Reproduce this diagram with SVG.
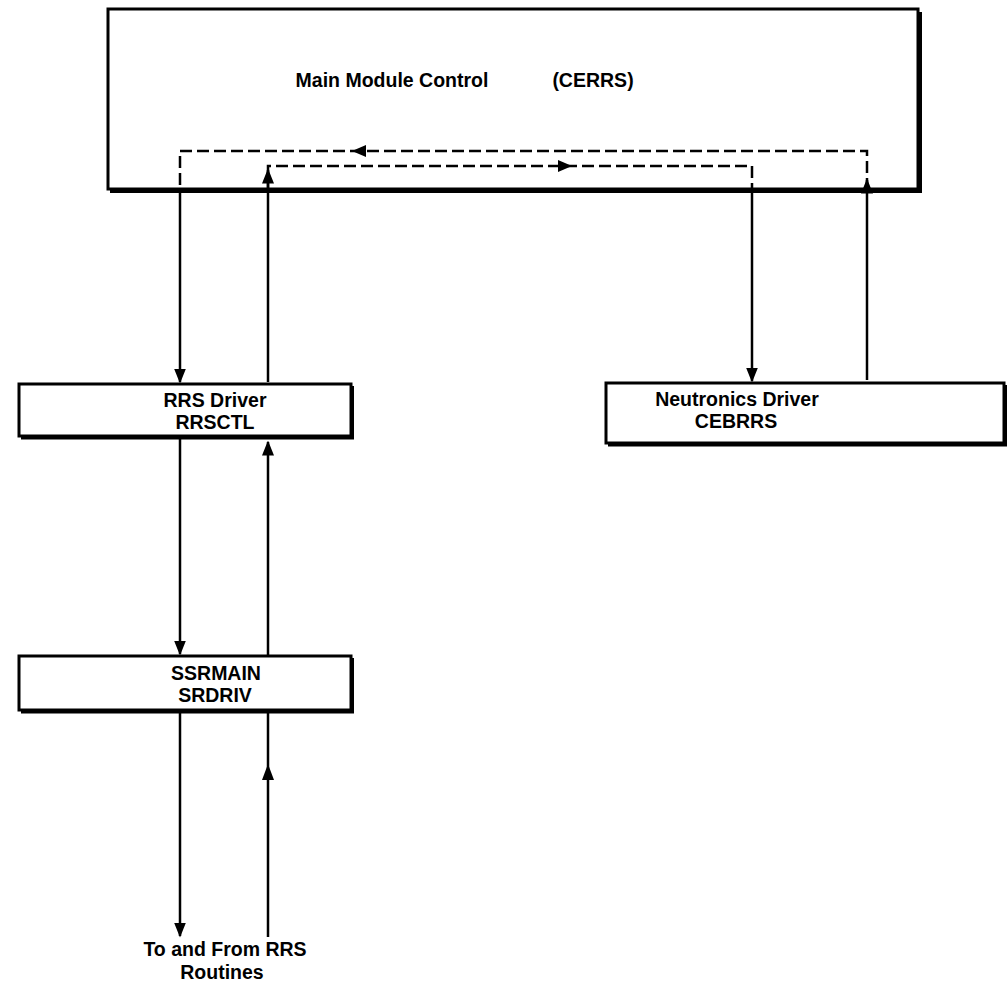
<svg xmlns="http://www.w3.org/2000/svg" width="1008" height="1003" viewBox="0 0 1008 1003">
<defs>
<style>
.box{fill:#fff;stroke:#000;stroke-width:3}
.sh{fill:none;stroke:#000;stroke-width:3}
.t{font-family:"Liberation Sans",Arial,sans-serif;font-weight:bold;font-size:19.5px;fill:#000;text-anchor:middle}
.ln{fill:none;stroke:#000;stroke-width:2.5}
.dl{fill:none;stroke:#000;stroke-width:2.5;stroke-dasharray:12 5}
.ar{fill:#000}
</style>
<marker id="ah" viewBox="0 0 10 10" refX="9" refY="5" markerWidth="6" markerHeight="6" orient="auto" markerUnits="strokeWidth">
<path d="M0,1 L10,5 L0,9 Z" fill="#000"/>
</marker>
</defs>
<rect width="1008" height="1003" fill="#fff"/>
<g id="main">
<rect class="box" x="108" y="9" width="810" height="180"/>
<path class="sh" d="M110,191.5 H920.5 V12"/>
<text class="t" x="392" y="87">Main Module Control</text>
<text class="t" x="593" y="87">(CERRS)</text>
</g>
<g id="rrs">
<rect class="box" x="19" y="384" width="332" height="52"/>
<path class="sh" d="M21,438 H352.5 V386"/>
<text class="t" x="215" y="407">RRS Driver</text>
<text class="t" x="215" y="429">RRSCTL</text>
</g>
<g id="neut">
<rect class="box" x="606" y="383" width="398" height="60"/>
<path class="sh" d="M608,445 H1005.5 V385"/>
<text class="t" x="737" y="406">Neutronics Driver</text>
<text class="t" x="736" y="428">CEBRRS</text>
</g>
<g id="ssr">
<rect class="box" x="19" y="656" width="332" height="54"/>
<path class="sh" d="M21,712 H352.5 V658"/>
<text class="t" x="216" y="680">SSRMAIN</text>
<text class="t" x="215" y="702">SRDRIV</text>
</g>
<g id="out">
<text class="t" x="225" y="956">To and From RRS</text>
<text class="t" x="222" y="979">Routines</text>
</g>
<g id="connectors">
<path class="dl" d="M867,190 V151 H180 V190"/>
<polygon class="ar" points="352,151 366,145 366,157"/>
<path class="ln" d="M867,380 V180" marker-end="url(#ah)"/>
<path class="ln" d="M180,190 V382" marker-end="url(#ah)"/>
<path class="dl" d="M268,192 V166 H752 V192"/>
<polygon class="ar" points="572,166 558,160 558,172"/>
<path class="ln" d="M268,382 V170" marker-end="url(#ah)"/>
<path class="ln" d="M752,190 V381" marker-end="url(#ah)"/>
<path class="ln" d="M180,438 V654" marker-end="url(#ah)"/>
<path class="ln" d="M268,655 V442" marker-end="url(#ah)"/>
<path class="ln" d="M180,712 V936" marker-end="url(#ah)"/>
<path class="ln" d="M268,937 V713"/>
<polygon class="ar" points="268,764 262,780 274,780"/>
</g>
</svg>
